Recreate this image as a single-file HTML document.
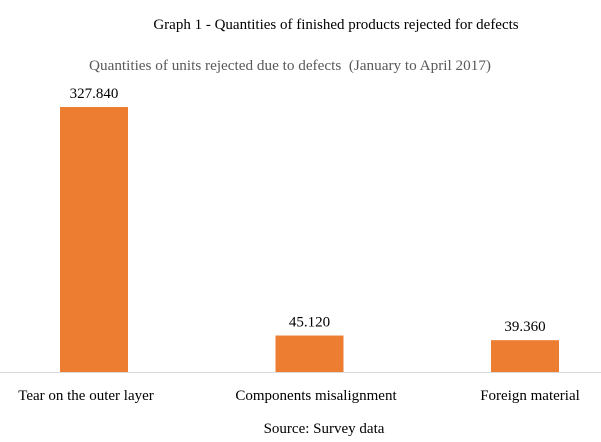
<!DOCTYPE html>
<html><head><meta charset="utf-8"><style>
body{margin:0;background:#fff;}
svg{display:block;font-family:"Liberation Serif",serif;}
</style></head><body>
<svg width="601" height="442">
<text x="336" y="29" font-size="15" text-anchor="middle" fill="#000">Graph 1 - Quantities of finished products rejected for defects</text>
<text x="290" y="70" font-size="15.2" text-anchor="middle" fill="#595959" xml:space="preserve">Quantities of units rejected due to defects  (January to April 2017)</text>
<g id="bars"></g>
<line x1="0" y1="372.5" x2="601" y2="372.5" stroke="#d9d9d9" stroke-width="1"/>
<text x="324" y="433" font-size="15" text-anchor="middle" fill="#000">Source: Survey data</text>
</svg>
<script>
const categories=["Tear on the outer layer","Components misalignment","Foreign material"];
const values=[327840,45120,39360];
const valueLabels=["327.840","45.120","39.360"];
const ns="http://www.w3.org/2000/svg";
const g=document.getElementById("bars");
const baseY=372, plotH=265, maxV=327840;
const y=v=>baseY-v/maxV*plotH;
const centerX=i=>94+i*215.5;
const labelX=[86,316,530];
const bw=68;
categories.forEach((c,i)=>{
  const r=document.createElementNS(ns,"rect");
  
  
  r.setAttribute("x",centerX(i)-bw/2);r.setAttribute("y",y(values[i]));
  r.setAttribute("width",bw);r.setAttribute("height",baseY-y(values[i]));
  r.setAttribute("fill","#ed7d31");g.appendChild(r);
  const t=document.createElementNS(ns,"text");
  
  
  t.setAttribute("x",centerX(i));t.setAttribute("y",y(values[i])-9);
  t.setAttribute("text-anchor","middle");t.setAttribute("font-size","15");
  t.textContent=valueLabels[i];g.appendChild(t);
  const l=document.createElementNS(ns,"text");
  
  
  l.setAttribute("x",labelX[i]);l.setAttribute("y",400);
  l.setAttribute("text-anchor","middle");l.setAttribute("font-size","15");
  l.textContent=c;g.appendChild(l);
});
</script>
</body></html>
